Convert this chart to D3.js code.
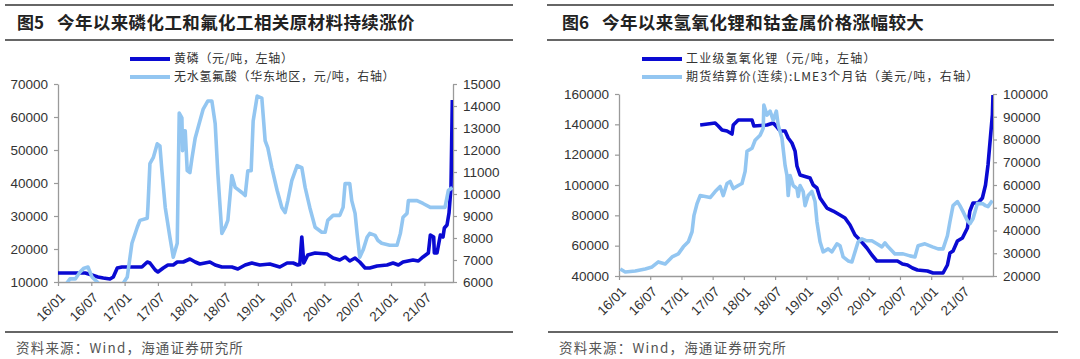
<!DOCTYPE html>
<html><head><meta charset="utf-8">
<script src="https://cdn.jsdelivr.net/npm/d3@7"></script>
<style>
body{margin:0;background:#fff;}
svg{display:block;}
.num{font-family:"Liberation Sans",Arial,sans-serif;font-size:13.5px;fill:#333;}
.cjk{font-family:"Noto Sans CJK SC",sans-serif;}
</style></head>
<body>
<svg id="c" width="1080" height="359"></svg>
<script>
// ---------- DATA ----------
const xTickYears = [2016,2016.5,2017,2017.5,2018,2018.5,2019,2019.5,2020,2020.5,2021,2021.5];
const xTickLabels = ["16/01","16/07","17/01","17/07","18/01","18/07","19/01","19/07","20/01","20/07","21/01","21/07"];

// Figure 5
const fig5Title = ["图5","今年以来磷化工和氟化工相关原材料持续涨价"];
const fig5Legend = ["黄磷（元/吨，左轴）","无水氢氟酸（华东地区，元/吨，右轴）"];
const fig5LeftTicks = [10000,20000,30000,40000,50000,60000,70000];
const fig5RightTicks = [6000,7000,8000,9000,10000,11000,12000,13000,14000,15000];
const phosYears = [2016.00,2016.26,2016.41,2016.51,2016.60,2016.68,2016.78,2016.83,2016.89,2016.96,2017.26,2017.34,2017.38,2017.46,2017.50,2017.58,2017.65,2017.73,2017.79,2017.88,2017.98,2018.06,2018.13,2018.28,2018.36,2018.46,2018.61,2018.70,2018.81,2018.91,2019.03,2019.18,2019.33,2019.44,2019.53,2019.60,2019.63,2019.66,2019.69,2019.75,2019.86,2020.04,2020.13,2020.23,2020.31,2020.38,2020.46,2020.53,2020.61,2020.68,2020.79,2020.94,2021.03,2021.11,2021.18,2021.33,2021.41,2021.48,2021.56,2021.59,2021.64,2021.65,2021.69,2021.74,2021.78,2021.80,2021.84,2021.87,2021.90,2021.92];
const phosValues = [12730,12730,12730,12100,11500,11200,10900,11500,14240,14550,14550,16060,15760,13640,13030,14240,15150,15150,16060,16060,16970,16060,15450,16060,15150,14550,14550,13940,15150,15760,15150,15450,14550,15760,15760,15150,15300,23640,15760,18180,18790,18480,17270,16670,17580,16360,17270,16060,14240,14240,14850,15150,15760,15150,16060,16670,16360,17580,18790,24240,23640,18790,18790,24240,23640,26360,27270,30900,38790,65150];
const hfYears = [2016.00,2016.12,2016.18,2016.26,2016.33,2016.39,2016.45,2016.51,2016.59,2016.63,2016.78,2016.96,2017.04,2017.11,2017.19,2017.23,2017.34,2017.35,2017.38,2017.43,2017.49,2017.53,2017.56,2017.61,2017.68,2017.73,2017.79,2017.82,2017.86,2017.87,2017.88,2017.91,2017.94,2017.98,2018.01,2018.06,2018.13,2018.18,2018.25,2018.31,2018.36,2018.40,2018.46,2018.51,2018.55,2018.61,2018.66,2018.76,2018.81,2018.85,2018.90,2018.93,2018.99,2019.06,2019.11,2019.15,2019.21,2019.29,2019.36,2019.41,2019.45,2019.51,2019.59,2019.66,2019.71,2019.78,2019.86,2019.96,2020.01,2020.05,2020.13,2020.23,2020.28,2020.31,2020.38,2020.41,2020.46,2020.49,2020.53,2020.58,2020.64,2020.68,2020.76,2020.80,2020.86,2020.98,2021.09,2021.14,2021.18,2021.24,2021.26,2021.39,2021.48,2021.59,2021.81,2021.86,2021.92];
const hfValues = [5800,5900,6140,6140,6450,6630,6680,6230,6000,5850,5800,5850,6230,7760,8490,8800,8900,9400,11380,11650,12280,12190,11060,9390,8030,7130,7760,13680,13460,11970,12870,12870,11060,10970,11600,12550,13320,13860,14230,14230,13190,10930,8210,8490,8800,10840,10300,10070,9930,11060,11060,13320,14450,14360,12420,12100,11200,10160,9390,9160,9700,10610,11290,11200,10300,9390,8490,8260,8260,8800,9030,9030,9390,10470,10470,9700,9120,8210,7130,7450,8030,8210,8120,7900,7760,7670,7670,8210,8940,9120,9700,9700,9570,9390,9390,10160,10300];

// Figure 6
const fig6Title = ["图6","今年以来氢氧化锂和钴金属价格涨幅较大"];
const fig6Legend = ["工业级氢氧化锂（元/吨，左轴）","期货结算价(连续):LME3个月钴（美元/吨，右轴）"];
const fig6LeftTicks = [40000,60000,80000,100000,120000,140000,160000];
const fig6RightTicks = [20000,30000,40000,50000,60000,70000,80000,90000,100000];
const liohYears = [2017.30,2017.54,2017.59,2017.65,2017.73,2017.81,2017.83,2017.91,2018.13,2018.16,2018.37,2018.47,2018.53,2018.58,2018.66,2018.71,2018.77,2018.82,2018.85,2018.90,2019.06,2019.11,2019.17,2019.22,2019.33,2019.43,2019.54,2019.62,2019.70,2019.78,2019.86,2019.97,2020.05,2020.13,2020.46,2020.54,2020.62,2020.70,2020.78,2020.94,2021.03,2021.19,2021.26,2021.30,2021.35,2021.42,2021.50,2021.58,2021.62,2021.67,2021.75,2021.82,2021.87,2021.91,2021.98,2021.99];
const liohValues = [139550,140870,138890,136260,135600,133620,139550,142850,142850,138890,139550,140870,138230,135600,135600,131000,127700,122400,112520,106590,104600,100000,98020,91430,84830,82850,80220,78240,73620,67030,63730,58460,53840,49890,49890,47910,47250,45270,43960,43300,41980,41980,47250,55160,56480,63080,65050,71650,82850,88130,88130,91430,100000,113180,146150,159340];
const cobaltYears = [2016.02,2016.10,2016.26,2016.42,2016.53,2016.63,2016.74,2016.85,2016.95,2017.03,2017.11,2017.17,2017.20,2017.25,2017.30,2017.38,2017.46,2017.54,2017.62,2017.67,2017.73,2017.78,2017.83,2017.91,2017.97,2018.02,2018.05,2018.13,2018.18,2018.26,2018.31,2018.32,2018.37,2018.42,2018.47,2018.52,2018.55,2018.61,2018.66,2018.69,2018.71,2018.74,2018.79,2018.85,2018.87,2018.90,2018.95,2018.98,2019.03,2019.09,2019.14,2019.17,2019.22,2019.27,2019.35,2019.41,2019.49,2019.54,2019.59,2019.67,2019.73,2019.78,2019.83,2019.89,2019.97,2020.05,2020.13,2020.21,2020.26,2020.31,2020.42,2020.55,2020.66,2020.74,2020.79,2020.90,2021.02,2021.11,2021.19,2021.26,2021.30,2021.35,2021.42,2021.46,2021.51,2021.58,2021.62,2021.67,2021.74,2021.82,2021.87,2021.91,2021.98];
const cobaltValues = [23090,21770,22200,23090,23980,26190,25300,28400,29720,32820,35030,39450,46520,51820,55360,54920,54480,57130,59340,55360,60660,61550,58450,59780,60660,65970,74810,76130,79670,81880,84970,95140,90720,92490,88510,92490,86300,80550,68620,64200,55360,64200,59780,58450,54920,59780,57130,50940,55360,57130,52710,43870,35030,30610,31930,30610,34140,33260,28400,26630,26190,30610,35030,36350,35470,35470,34140,32820,34580,32820,29720,29720,28840,28400,33260,34140,32820,31930,31930,37680,43870,50940,52710,50940,48290,44310,42980,45190,51820,51820,50940,50500,53150];

const sourceText = "资料来源：Wind，海通证券研究所";

// ---------- DRAW ----------
const svg = d3.select("#c");
const DARK = "#0a0ad2", LIGHT = "#93c6f1", AXIS = "#9a9a9a";

function panel(cfg){
  const g = svg.append("g");
  // header rules & title
  g.append("line").attr("x1",cfg.ruleX0).attr("x2",cfg.ruleX1).attr("y1",5).attr("y2",5).attr("stroke","#333").attr("stroke-width",1.3);
  g.append("line").attr("x1",cfg.ruleX0).attr("x2",cfg.ruleX1).attr("y1",40).attr("y2",40).attr("stroke","#333").attr("stroke-width",1.3);
  g.append("text").attr("class","cjk").attr("x",cfg.titleX).attr("y",29).attr("font-size","17px").attr("font-weight","bold").attr("fill","#222").text(cfg.title[0]);
  g.append("text").attr("class","cjk").attr("x",cfg.titleX+40).attr("y",29).attr("font-size","17.5px").attr("font-weight","bold").attr("fill","#222").attr("letter-spacing","0.4px").text(cfg.title[1]);
  // footer
  g.append("line").attr("x1",cfg.footX0).attr("x2",cfg.footX1).attr("y1",332).attr("y2",332).attr("stroke","#333").attr("stroke-width",1.3);
  g.append("text").attr("class","cjk").attr("x",cfg.footX0+11).attr("y",353).attr("font-size","13.5px").attr("letter-spacing","1.2px").attr("fill","#555").text(sourceText);

  const x = d3.scaleLinear().domain(cfg.xDomain).range([cfg.x0,cfg.x1]);
  const yL = d3.scaleLinear().domain(cfg.yLDomain).range([cfg.yB,cfg.yT]);
  const yR = d3.scaleLinear().domain(cfg.yRDomain).range([cfg.yB,cfg.yT]);

  const fmt = d3.format("d");
  const axL = g.append("g").attr("transform",`translate(${cfg.x0},0)`)
    .call(d3.axisLeft(yL).tickValues(cfg.leftTicks).tickFormat(fmt).tickSize(4).tickSizeOuter(0).tickPadding(6));
  const axR = g.append("g").attr("transform",`translate(${cfg.x1},0)`)
    .call(d3.axisRight(yR).tickValues(cfg.rightTicks).tickFormat(fmt).tickSize(4).tickSizeOuter(0).tickPadding(6));
  const axX = g.append("g").attr("transform",`translate(0,${cfg.yB})`)
    .call(d3.axisBottom(x).tickValues(xTickYears).tickFormat((d,i)=>xTickLabels[i]).tickSize(4).tickSizeOuter(0));
  [axL,axR,axX].forEach(a=>{
    a.select(".domain").attr("stroke",AXIS).attr("stroke-width",1.3);
    a.selectAll(".tick line").attr("stroke",AXIS).attr("stroke-width",1.2);
    a.selectAll("text").attr("class","num").attr("font-family",null).attr("font-size",null).attr("fill",null);
  });
  axX.selectAll("text").attr("x",0).attr("y",0).attr("dy","0.35em")
    .attr("text-anchor","end").attr("transform","translate(4,13) rotate(-45)");

  // clip
  const cid = "clip"+cfg.id;
  svg.append("defs").append("clipPath").attr("id",cid).append("rect")
    .attr("x",cfg.x0).attr("y",cfg.yT-3).attr("width",cfg.x1-cfg.x0).attr("height",cfg.yB-cfg.yT+3);
  const lines = g.append("g").attr("clip-path",`url(#${cid})`);
  const d1 = cfg.s1Years.map((t,i)=>[t,cfg.s1Values[i]]);
  const d2 = cfg.s2Years.map((t,i)=>[t,cfg.s2Values[i]]);
  lines.append("path").attr("d",d3.line().x(d=>x(d[0])).y(d=>yL(d[1]))(d1))
    .attr("fill","none").attr("stroke",DARK).attr("stroke-width",3.6).attr("stroke-linejoin","round");
  lines.append("path").attr("d",d3.line().x(d=>x(d[0])).y(d=>yR(d[1]))(d2))
    .attr("fill","none").attr("stroke",LIGHT).attr("stroke-width",3.6).attr("stroke-linejoin","round");

  // legend
  const lg = g.append("g");
  [[DARK,cfg.legend[0],59],[LIGHT,cfg.legend[1],77]].forEach(([c,t,yy])=>{
    lg.append("line").attr("x1",cfg.legX).attr("x2",cfg.legX+40).attr("y1",yy).attr("y2",yy).attr("stroke",c).attr("stroke-width",4);
    lg.append("text").attr("class","cjk").attr("x",cfg.legX+44).attr("y",yy+4.3).attr("font-size","12px").attr("letter-spacing",cfg.legSpacing).attr("fill","#333").text(t);
  });
}

panel({id:5,title:fig5Title,legend:fig5Legend,ruleX0:5,ruleX1:513,titleX:17,footX0:5,footX1:513,
  x0:58,x1:453,yT:84,yB:282,xDomain:[2016,2021.93],yLDomain:[10000,70000],yRDomain:[6000,15000],
  leftTicks:fig5LeftTicks,rightTicks:fig5RightTicks,legX:130,legSpacing:"0.7px",
  s1Years:phosYears,s1Values:phosValues,s2Years:hfYears,s2Values:hfValues});
panel({id:6,title:fig6Title,legend:fig6Legend,ruleX0:547,ruleX1:1054,titleX:562,footX0:548,footX1:1058,
  x0:619,x1:993,yT:94,yB:276,xDomain:[2016,2021.99],yLDomain:[40000,160000],yRDomain:[20000,100000],
  leftTicks:fig6LeftTicks,rightTicks:fig6RightTicks,legX:642,legSpacing:"1.2px",
  s1Years:liohYears,s1Values:liohValues,s2Years:cobaltYears,s2Values:cobaltValues});
</script>
</body></html>
